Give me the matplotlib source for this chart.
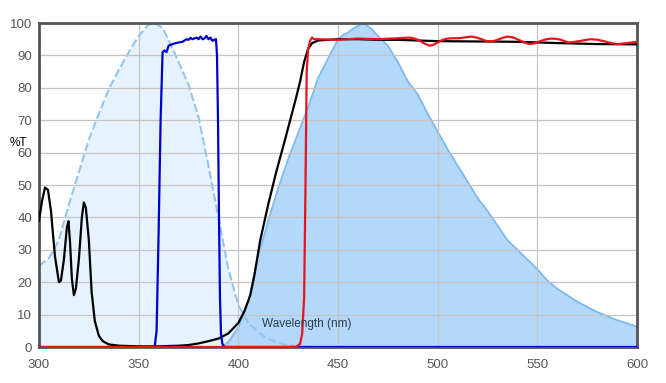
import numpy as np
import matplotlib
matplotlib.use('Agg')
import matplotlib.pyplot as plt

plt.rcParams['font.family'] = ['Liberation Sans', 'DejaVu Sans']

# Excitation spectrum (light dashed curve)
ex_wl = [300, 305, 310, 315, 320, 325, 330, 335, 340, 345, 350, 355, 358, 362, 366, 370,
         375, 380, 385, 390, 395, 400, 405, 410, 415, 420, 425, 430, 435]
ex_t = [25, 27.5, 33, 44, 54, 64, 72, 79.5, 85.5, 91, 96, 99.5, 100, 98.5, 93.5, 88,
        81, 71, 56, 40, 24, 13, 7.5, 4.5, 2.5, 1.3, 0.6, 0.2, 0]

# Emission spectrum (filled)
em_wl = [392, 395, 400, 405, 410, 415, 420, 425, 430, 435, 440, 445, 450, 453, 455, 458,
         460, 462, 463, 465, 467, 470, 475, 480, 485, 490, 495, 500, 505, 510, 515, 520,
         525, 530, 535, 540, 545, 550, 555, 560, 565, 570, 575, 580, 585, 590, 595, 600]
em_t = [0, 1.5, 6, 14, 28, 39, 49, 58, 66, 74, 83, 89, 95, 96.5, 97, 98.5,
        99, 99.8, 100, 99, 98, 96, 93, 88, 82, 78, 72, 66.5, 61, 56, 51, 46,
        42, 37.5, 33, 30, 27, 24, 20.5, 18, 16, 14, 12.4, 10.8, 9.5, 8.3, 7.3, 6.3]

# Filter 1 (black)
k_wl = [300, 301.5, 303, 304.5, 306, 308, 310, 311, 312.5, 314, 314.8, 315.6, 316.5, 317.5,
        318.5, 320, 321.5, 322.5, 323.5, 325, 326.4, 328, 330, 332, 335, 340, 350, 360, 370,
        375, 380, 385, 390, 395, 400, 403, 406, 408, 411, 415, 419, 423, 426, 429, 431, 433,
        435, 437, 440, 450, 460, 470, 480, 490, 500, 520, 540, 560, 580, 600]
k_t = [39, 45, 49.2, 48.5, 42, 28, 20, 20.5, 27, 37, 38.8, 32, 21, 16,
       18, 27, 40, 44.6, 43, 33, 17, 8, 3.5, 1.8, 0.8, 0.4, 0.2, 0.2, 0.4,
       0.6, 1.1, 1.8, 2.6, 4.2, 7.4, 11, 16, 22, 33, 44, 54, 63, 70, 77, 82, 88,
       92, 93.8, 94.6, 95, 95, 94.8, 94.8, 94.6, 94.4, 94.3, 94.2, 93.8, 93.5, 93.4]

# Filter 2 (blue)
b_wl = [300, 358, 359, 360, 361, 362, 363, 364, 365, 367, 370, 372, 374, 375, 376, 377,
        379, 380, 381, 382, 383, 384, 385, 386, 387, 388, 388.8, 389.3, 389.8, 390.3,
        390.8, 391.3, 392, 393, 600]
b_t = [0, 0, 5, 35, 70, 91, 91.5, 91, 93, 93.5, 94, 94.2, 95, 94.8, 95.4, 95,
       95.5, 95, 95.8, 95, 95.2, 96, 95, 95.5, 94.5, 94.8, 95, 90, 70, 40,
       15, 4, 1, 0, 0]

# Filter 3 (red)
r_wl = [300, 429, 431, 432, 433, 433.7, 434.3, 435, 436, 437, 438, 440, 450, 460, 470, 480,
        486, 488.5, 491, 493.5, 496, 498, 500, 502.5, 505, 508, 511, 514, 517, 519.5, 522,
        524, 526, 528, 530, 532.5, 535, 537.5, 540, 543, 546, 548.5, 551, 554, 557, 559.5,
        562, 564, 566, 569, 572, 574.5, 577, 580.5, 584, 587, 590, 592.5, 595, 597.5, 600]
r_t = [0, 0, 1, 4, 15, 50, 85, 92, 94.5, 95.5, 95, 95, 94.8, 95.2, 95, 95.3,
       95.5, 95.2, 94.5, 93.6, 93, 93.3, 94, 94.8, 95.2, 95.3, 95.3, 95.6, 95.8, 95.5, 95,
       94.5, 94.3, 94.4, 94.8, 95.4, 95.8, 95.6, 95, 94.1, 93.5, 93.7, 94.3, 94.9, 95.2, 95.1,
       94.8, 94.3, 94, 94.2, 94.5, 94.8, 95, 94.8, 94.3, 93.8, 93.5, 93.6, 93.8, 94, 94.2]

fig = plt.figure(figsize=(6.66, 3.83), dpi=100)
ax = fig.add_axes([39 / 666, 36 / 383, 598 / 666, 324 / 383])

ax.fill_between(ex_wl, ex_t, 0, color='#e6f2fd', lw=0, zorder=1)
ax.fill_between(em_wl, em_t, 0, color='#b3d8f9', lw=0, zorder=1.1)
ax.plot(em_wl, em_t, color='#7db8ef', lw=1.3, zorder=1.2)
ax.plot(ex_wl, ex_t, color='#93c5f1', lw=1.5, ls=(0, (4, 1.5)), zorder=1.3)

ax.plot(k_wl, k_t, color='black', lw=1.6, zorder=3)
ax.plot(b_wl, b_t, color='#0000cc', lw=1.6, zorder=3.2)
ax.plot(r_wl, r_t, color='#e8141c', lw=1.6, zorder=3.4)

ax.set_xlim(300, 600)
ax.set_ylim(0, 100)
ax.set_xticks(np.arange(300, 601, 50))
ax.set_yticks(np.arange(0, 101, 10))
ax.set_axisbelow('line')
ax.grid(True, color='#c4c4c4', lw=0.9)
ax.tick_params(length=0, labelsize=9.5, labelcolor='#555555')
ax.tick_params(axis='x', pad=9)
ax.tick_params(axis='y', pad=5)
for spine in ax.spines.values():
    spine.set_color('#555555')
    spine.set_linewidth(2)
    spine.set_zorder(2.5)

ax.text(0.373, 0.062, 'Wavelength (nm)', transform=ax.transAxes, fontsize=8.5,
        color='#2d3e50', zorder=4)
fig.text(10 / 666, 1 - 143 / 383, '%T', fontsize=8.5, color='black', va='center')

fig.savefig('out.png', dpi=100, facecolor='white')
